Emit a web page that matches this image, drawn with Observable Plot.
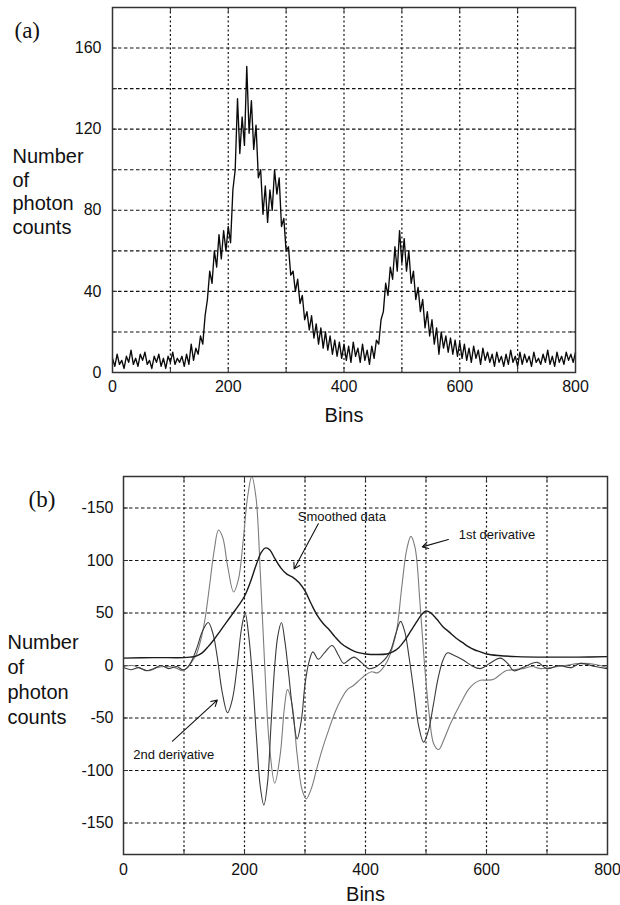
<!DOCTYPE html>
<html>
<head>
<meta charset="utf-8">
<script src="https://cdn.jsdelivr.net/npm/d3@7"></script>
<script src="https://cdn.jsdelivr.net/npm/@observablehq/plot@0.6"></script>
<style>
  html, body { margin: 0; padding: 0; background: #fff; }
  #chart { width: 620px; height: 905px; position: relative; }
  #chart svg { display: block; }
</style>
</head>
<body>
<div id="chart"></div>
<script>
// ---------- Panel (a): raw photon counts, one value every 4 bins ----------
const rawStep = 4;
const rawCounts = [
  7,3,9,4,6,2,8,5,11,4,
  7,3,9,6,10,4,6,2,8,5,
  9,3,7,2,8,5,10,4,7,5,
  8,3,9,4,14,6,12,9,18,14,
  28,36,50,44,60,52,68,56,70,60,
  72,64,90,100,135,108,126,112,151,118,
  134,110,122,96,100,78,92,74,90,80,
  100,88,96,72,76,60,62,48,50,40,
  46,34,38,26,30,21,28,17,24,14,
  22,12,20,11,18,9,16,8,15,7,
  14,6,13,5,15,8,12,5,14,6,
  11,4,13,7,16,14,26,30,44,38,
  52,46,62,50,70,54,66,50,60,44,
  50,36,42,30,36,22,30,18,26,14,
  22,9,20,12,18,10,17,9,16,8,
  15,7,14,6,12,5,13,7,11,4,
  12,6,10,5,9,3,10,5,8,3,
  9,4,11,5,8,3,10,4,9,5,
  8,3,10,5,7,4,9,5,11,4,
  8,3,10,5,8,4,10,6,9,5,
  10
];
const aYTicks = [0, 40, 80, 120, 160];
const aYGrid = [20, 40, 60, 80, 100, 120, 140, 160];
const xTicks = [0, 200, 400, 600, 800];
const xGrid = [100, 200, 300, 400, 500, 600, 700];

// ---------- Panel (b): smoothed data and its derivatives ----------
const smoothBins = [0,50,100,110,120,130,140,150,160,170,180,190,200,210,220,228,235,242,250,260,270,280,290,300,310,320,330,340,350,360,370,380,390,400,420,435,445,455,465,475,485,492,500,508,518,528,538,550,560,570,580,590,600,620,650,700,750,800];
const smoothVals = [7,7.5,7.5,8,9,12,18,25,33,41,49,57,66,80,97,108,112,110,102,93,87,84,79,71,59,48,40,34,27,21,17,14,12,11,10.5,11,13,17,24,33,42,48,52,50,44,37,32,26,22,18,15,13,11,9.5,8.5,8,8,8.5];

const firstBins = [0,15,30,42,55,70,85,98,105,112,120,128,135,142,150,157,164,172,182,190,198,205,212,219,226,233,241,250,259,266,271,278,287,295,302,310,320,330,340,350,360,370,380,390,400,410,420,428,436,445,452,460,468,475,482,490,497,505,513,521,530,540,550,560,570,580,590,600,612,622,632,645,660,675,690,705,720,740,760,780,800];
const firstVals = [-1,0,-3,-5,-2,-1,-2,-5,-2,3,10,25,45,75,110,129,122,95,70,82,120,160,180,160,90,5,-75,-112,-85,-40,-23,-35,-85,-118,-127,-118,-97,-77,-60,-44,-32,-23,-19,-14,-9,-6,-7,-3,4,18,35,75,110,123,112,60,5,-45,-75,-80,-70,-56,-44,-33,-23,-17,-14,-14,-13,-9,-5,-4,-3,-1,-3,-2,-1,1,2,1,-2];

const secondBins = [0,12,25,38,50,62,75,88,98,106,114,122,130,140,148,155,163,172,180,188,195,201,207,213,220,226,232,238,244,250,255,261,267,273,280,287,294,300,306,313,322,332,345,355,364,372,381,393,405,415,425,435,442,450,458,465,472,480,488,496,504,512,520,528,535,545,562,575,590,605,623,635,645,660,684,700,720,740,755,780,800];
const secondVals = [-2,-4,-2,-5,-3,0,-3,-1,-4,-2,6,18,32,41,30,8,-25,-45,-32,0,35,50,28,-10,-70,-115,-133,-112,-55,0,28,41,22,-8,-45,-70,-52,-18,2,13,6,12,19,10,2,5,8,3,-3,-2,2,8,15,30,42,32,8,-25,-58,-73,-62,-38,-12,5,12,10,5,0,-3,2,7,2,-5,-2,3,-3,0,-2,2,-1,-3];

const bYTicks = [150, 100, 50, 0, -50, -100, -150];
const bYTickLabels = ["-150", "100", "50", "0", "-50", "-100", "-150"];
const bYGrid = [-150, -100, -50, 0, 50, 100, 150];

// annotation labels and their arrows (bins / counts)
const noteText = ["Smoothed data", "1st derivative", "2nd derivative"];
const noteX = [288, 554, 16];
const noteY = [142, 124, -85];
const arrowX1 = [322, 537, 81];
const arrowY1 = [135, 120, -72];
const arrowX2 = [282, 494, 155];
const arrowY2 = [92, 113, -33];

const yTitle = "Number\nof\nphoton\ncounts";
const font = "'Liberation Sans', Arial, Helvetica, sans-serif";
const serif = "'Liberation Serif', 'Times New Roman', serif";
const gridColor = "#111";
const frameColor = "#333";

const pair = (xs, ys) => xs.map((x, i) => ({x, y: ys[i]}));

// short inward ticks along all four frame edges
function frameTicks(xs, ys, innerW, innerH) {
  return [
    Plot.tickX(xs, {x: d => d, insetTop: innerH - 5, stroke: frameColor}),
    Plot.tickX(xs, {x: d => d, insetBottom: innerH - 5, stroke: frameColor}),
    Plot.tickY(ys, {y: d => d, insetRight: innerW - 5, stroke: frameColor}),
    Plot.tickY(ys, {y: d => d, insetLeft: innerW - 5, stroke: frameColor})
  ];
}

function grid(ys) {
  return [
    Plot.ruleY(ys, {y: d => d, stroke: gridColor, strokeWidth: 1.1, strokeDasharray: "3.5,2.5"}),
    Plot.ruleX(xGrid, {x: d => d, stroke: gridColor, strokeWidth: 1.2, strokeDasharray: "2,2.5"})
  ];
}

// ---------- draw panel (a) ----------
const A = {width: 620, height: 440, ml: 112, mr: 45, mt: 7, mb: 68};
const aW = A.width - A.ml - A.mr, aH = A.height - A.mt - A.mb;
const rawData = rawCounts.map((v, i) => ({bin: i * rawStep, count: v}));

const plotA = Plot.plot({
  width: A.width, height: A.height,
  marginLeft: A.ml, marginRight: A.mr, marginTop: A.mt, marginBottom: A.mb,
  style: {fontFamily: font, fontSize: "16px", color: "#111", background: "#fff", overflow: "visible"},
  x: {domain: [0, 800]},
  y: {domain: [0, 180]},
  marks: [
    ...grid(aYGrid),
    ...frameTicks(xGrid, aYGrid, aW, aH),
    Plot.line(rawData, {x: "bin", y: "count", stroke: "#0a0a0a", strokeWidth: 1.35}),
    Plot.frame({stroke: frameColor, strokeWidth: 1.5}),
    Plot.axisY({ticks: aYTicks, tickSize: 0, tickPadding: 11, label: null, fontSize: 16}),
    Plot.axisX({ticks: xTicks, tickSize: 0, tickPadding: 8, label: null, fontSize: 16}),
    Plot.text(["Bins"], {text: d => d, frameAnchor: "bottom", lineAnchor: "middle", dy: 43, fontSize: 20}),
    Plot.text([yTitle], {text: d => d, frameAnchor: "left", textAnchor: "start", lineAnchor: "middle", dx: -100, dy: 1, fontSize: 20, lineHeight: 1.17}),
    Plot.text(["(a)"], {text: d => d, frameAnchor: "top-left", textAnchor: "start", lineAnchor: "middle", dx: -98, dy: 23, fontSize: 23, fontFamily: serif})
  ]
});

// ---------- draw panel (b) ----------
const B = {width: 620, height: 465, ml: 123, mr: 13, mt: 36, mb: 51};
const bW = B.width - B.ml - B.mr, bH = B.height - B.mt - B.mb;
const notes = noteText.map((t, i) => ({t, x: noteX[i], y: noteY[i]}));
const arrows = arrowX1.map((x1, i) => ({x1, y1: arrowY1[i], x2: arrowX2[i], y2: arrowY2[i]}));

const plotB = Plot.plot({
  width: B.width, height: B.height,
  marginLeft: B.ml, marginRight: B.mr, marginTop: B.mt, marginBottom: B.mb,
  style: {fontFamily: font, fontSize: "16px", color: "#111", background: "#fff", overflow: "visible"},
  x: {domain: [0, 800]},
  y: {domain: [-180, 180]},
  marks: [
    ...grid(bYGrid),
    ...frameTicks(xGrid, bYGrid, bW, bH),
    Plot.line(pair(firstBins, firstVals), {x: "x", y: "y", stroke: "#7c7c7c", strokeWidth: 1.1, curve: "catmull-rom", clip: true}),
    Plot.line(pair(secondBins, secondVals), {x: "x", y: "y", stroke: "#3a3a3a", strokeWidth: 1.1, curve: "catmull-rom", clip: true}),
    Plot.line(pair(smoothBins, smoothVals), {x: "x", y: "y", stroke: "#1a1a1a", strokeWidth: 1.4, curve: "catmull-rom", clip: true}),
    Plot.arrow(arrows, {x1: "x1", y1: "y1", x2: "x2", y2: "y2", stroke: "#111", strokeWidth: 1.1, headLength: 9}),
    Plot.text(notes, {x: "x", y: "y", text: "t", textAnchor: "start", fontSize: 13, fill: "#111"}),
    Plot.frame({stroke: frameColor, strokeWidth: 1.5}),
    Plot.axisY({ticks: bYTicks, tickFormat: d => bYTickLabels[bYTicks.indexOf(d)], tickSize: 0, tickPadding: 10, label: null, fontSize: 16}),
    Plot.axisX({ticks: xTicks, tickSize: 0, tickPadding: 9, label: null, fontSize: 16}),
    Plot.text(["Bins"], {text: d => d, frameAnchor: "bottom", lineAnchor: "middle", dy: 40, fontSize: 20}),
    Plot.text([yTitle], {text: d => d, frameAnchor: "left", textAnchor: "start", lineAnchor: "middle", dx: -116, dy: 13, fontSize: 20, lineHeight: 1.25}),
    Plot.text(["(b)"], {text: d => d, frameAnchor: "top-left", textAnchor: "start", lineAnchor: "middle", dx: -95, dy: 23, fontSize: 23, fontFamily: serif})
  ]
});

const chart = document.getElementById("chart");
chart.appendChild(plotA);
chart.appendChild(plotB);
</script>
</body>
</html>
